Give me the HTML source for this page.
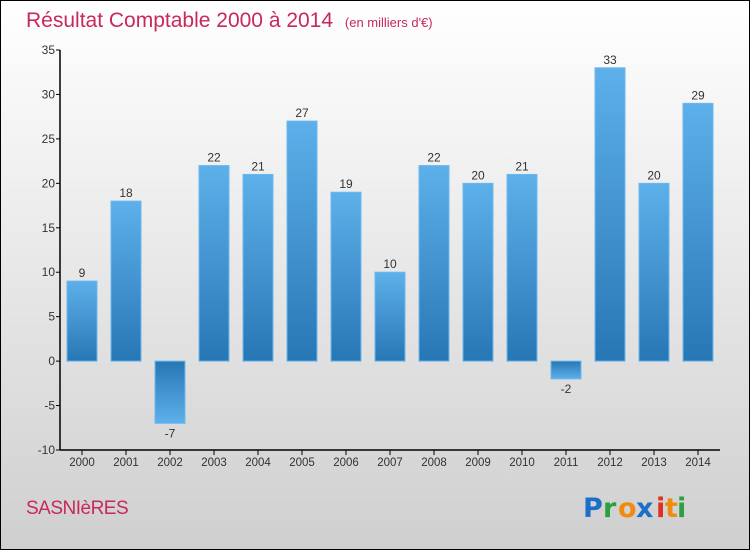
<!DOCTYPE html>
<html><head><meta charset="utf-8"><style>
html,body{margin:0;padding:0}
body{width:750px;height:550px;overflow:hidden;font-family:"Liberation Sans",sans-serif}
</style></head><body>
<svg width="750" height="550" xmlns="http://www.w3.org/2000/svg" id="svg">
<defs>
<linearGradient id="bg" x1="0" y1="0" x2="0" y2="1"><stop offset="0" stop-color="#ffffff"/><stop offset="1" stop-color="#cfcfcf"/></linearGradient>
<linearGradient id="pos" x1="0" y1="0" x2="0" y2="1"><stop offset="0" stop-color="#5db0ea"/><stop offset="1" stop-color="#2877b5"/></linearGradient>
<linearGradient id="neg" x1="0" y1="0" x2="0" y2="1"><stop offset="0" stop-color="#2877b5"/><stop offset="1" stop-color="#5db0ea"/></linearGradient>
</defs>
<rect x="0.5" y="0.5" width="749" height="549" fill="url(#bg)" stroke="#000"/>
<text x="26" y="27" font-size="21" fill="#c8285a" font-weight="300">Résultat Comptable 2000 à 2014 <tspan font-size="13" dx="6">(en milliers d'€)</tspan></text>
<g id="plot"></g>
<text x="26" y="514" font-size="19" fill="#c8285a" letter-spacing="-0.5">SASNIèRES</text>
<g font-size="27" font-family="'DejaVu Sans',sans-serif" font-weight="bold">
<text x="583" y="517" fill="#1a6fc8">P</text><text x="603" y="517" fill="#2aa040">r</text><text x="618" y="517" fill="#f08a10">o</text><text x="636" y="517" fill="#1a6fc8">x</text><text x="656" y="517" fill="#e03020">i</text><text x="665" y="517" fill="#f08a10">t</text><text x="677" y="517" fill="#2aa040">i</text>
</g>
</svg>
<script>
const categories=["2000","2001","2002","2003","2004","2005","2006","2007","2008","2009","2010","2011","2012","2013","2014"];
const values=[9,18,-7,22,21,27,19,10,22,20,21,-2,33,20,29];
const yTicks=[-10,-5,0,5,10,15,20,25,30,35];
const NS="http://www.w3.org/2000/svg";
const g=document.getElementById('plot');
const L=60,R=720,T=50,B=450,ymin=-10,ymax=35;
const y=v=>B-(v-ymin)/(ymax-ymin)*(B-T);
const band=(R-L)/categories.length;
const x=i=>L+band*i+band/2;
function mk(t,a){const e=document.createElementNS(NS,t);for(const k in a)e.setAttribute(k,a[k]);g.appendChild(e);return e;}
values.forEach((v,i)=>{
 const y0=y(0),y1=y(v);
 const r=mk('rect',{x:x(i)-15,y:Math.min(y0,y1),width:30,height:Math.abs(y1-y0),fill:v>=0?'url(#pos)':'url(#neg)',stroke:'#6cb8ee','stroke-width':1});
 
 
 const t=mk('text',{x:x(i),y:v>=0?y1-4:y1+14,'text-anchor':'middle','font-size':12,fill:'#333'});
 t.textContent=v;
 
 
 const tk=mk('line',{x1:x(i),x2:x(i),y1:B,y2:B+5,stroke:'#000'});
 
 
 const xl=mk('text',{x:x(i),y:B+16,'text-anchor':'middle','font-size':11.5,fill:'#333'});
 xl.textContent=categories[i];
 
 
});
yTicks.forEach(v=>{
 const tk=mk('line',{x1:L-4,x2:L,y1:y(v),y2:y(v),stroke:'#000'});
 
 
 const t=mk('text',{x:L-5,y:y(v)+4,'text-anchor':'end','font-size':12,fill:'#333'});
 t.textContent=v;
 
 
});
const ya=mk('line',{x1:L,x2:L,y1:T,y2:B,stroke:'#000','stroke-width':1.5});


const xa=mk('line',{x1:L,x2:R,y1:B,y2:B,stroke:'#000','stroke-width':1.5});


</script>
</body></html>
